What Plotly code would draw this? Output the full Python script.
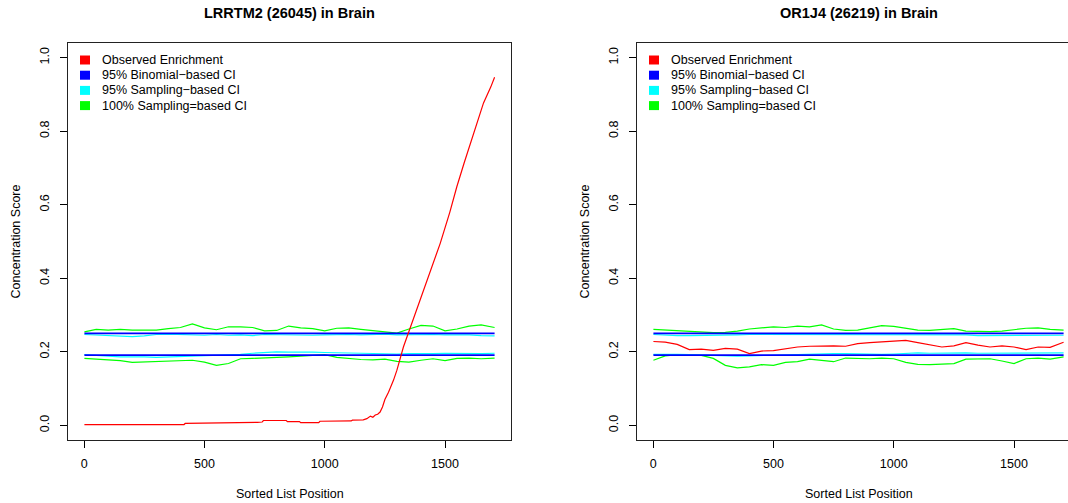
import plotly.graph_objects as go

W, H = 1068, 503

# ---------------- data ----------------
POS = [1, 50, 100, 150, 200, 250, 300, 350, 400, 450, 500, 550, 600, 650, 700,
       750, 800, 850, 900, 950, 1000, 1050, 1100, 1150, 1200, 1250, 1300, 1350,
       1400, 1450, 1500, 1550, 1600, 1650, 1706]

BINOM_UPPER = 0.250
BINOM_LOWER = 0.191

# Left panel: LRRTM2
L_RED_POS = [1, 150, 155, 360, 365, 415, 420, 715, 720, 740, 745, 840, 845, 895, 900,
             975, 980, 1110, 1115, 1160, 1175, 1190, 1200, 1210, 1220, 1230, 1240,
             1250, 1265, 1286, 1300, 1327, 1360, 1410, 1450, 1480, 1520, 1549, 1580,
             1618, 1660, 1690, 1706]
L_RED = [0.002, 0.002, 0.000, 0.000, 0.002, 0.002, 0.005, 0.006, 0.008, 0.009, 0.013,
         0.013, 0.010, 0.010, 0.007, 0.007, 0.011, 0.012, 0.014, 0.015, 0.018, 0.025,
         0.022, 0.028, 0.030, 0.036, 0.050, 0.070, 0.090, 0.123, 0.150, 0.213, 0.275,
         0.368, 0.440, 0.495, 0.580, 0.649, 0.715, 0.795, 0.877, 0.920, 0.947]
L_GREEN_UP = [0.254, 0.261, 0.259, 0.261, 0.259, 0.260, 0.259, 0.263, 0.266, 0.276,
              0.265, 0.260, 0.268, 0.268, 0.266, 0.257, 0.258, 0.270, 0.265, 0.263,
              0.257, 0.264, 0.265, 0.261, 0.258, 0.254, 0.251, 0.262, 0.272, 0.270,
              0.257, 0.262, 0.270, 0.273, 0.266]
L_CYAN_UP = [0.247, 0.246, 0.243, 0.242, 0.241, 0.243, 0.247, 0.248, 0.247, 0.248,
             0.245, 0.247, 0.245, 0.246, 0.244, 0.247, 0.246, 0.247, 0.246, 0.245,
             0.246, 0.247, 0.247, 0.246, 0.247, 0.248, 0.246, 0.247, 0.246, 0.247,
             0.246, 0.247, 0.246, 0.244, 0.243]
L_CYAN_LO = [0.192, 0.191, 0.188, 0.186, 0.187, 0.186, 0.185, 0.186, 0.189, 0.189,
             0.190, 0.190, 0.191, 0.193, 0.196, 0.198, 0.200, 0.199, 0.200, 0.199,
             0.198, 0.197, 0.197, 0.195, 0.196, 0.195, 0.194, 0.195, 0.194, 0.195,
             0.196, 0.195, 0.194, 0.195, 0.196]
L_GREEN_LO = [0.182, 0.180, 0.178, 0.176, 0.171, 0.172, 0.174, 0.176, 0.175, 0.177,
              0.172, 0.163, 0.168, 0.181, 0.182, 0.183, 0.184, 0.186, 0.188, 0.191,
              0.192, 0.185, 0.181, 0.179, 0.178, 0.180, 0.174, 0.172, 0.177, 0.181,
              0.176, 0.182, 0.183, 0.181, 0.183]

# Right panel: OR1J4
R_RED = [0.228, 0.226, 0.220, 0.206, 0.207, 0.204, 0.209, 0.207, 0.195, 0.202,
         0.203, 0.208, 0.213, 0.215, 0.216, 0.216, 0.215, 0.222, 0.225, 0.227,
         0.227, 0.231, 0.225, 0.218, 0.213, 0.216, 0.225, 0.218, 0.213, 0.216,
         0.213, 0.206, 0.213, 0.212, 0.226]
R_GREEN_UP = [0.261, 0.259, 0.257, 0.255, 0.253, 0.252, 0.253, 0.256, 0.262, 0.265,
              0.268, 0.266, 0.270, 0.268, 0.273, 0.262, 0.258, 0.259, 0.265, 0.271,
              0.269, 0.264, 0.259, 0.258, 0.260, 0.263, 0.256, 0.255, 0.255, 0.256,
              0.261, 0.264, 0.265, 0.261, 0.259]
R_CYAN_UP = [0.247, 0.245, 0.244, 0.244, 0.244, 0.244, 0.245, 0.246, 0.247, 0.247,
             0.246, 0.247, 0.246, 0.247, 0.246, 0.247, 0.246, 0.247, 0.247, 0.246,
             0.247, 0.246, 0.245, 0.246, 0.247, 0.246, 0.246, 0.244, 0.244, 0.245,
             0.246, 0.246, 0.246, 0.245, 0.245]
R_CYAN_LO = [0.193, 0.194, 0.193, 0.192, 0.191, 0.189, 0.187, 0.188, 0.189, 0.190,
             0.191, 0.192, 0.193, 0.193, 0.194, 0.195, 0.195, 0.194, 0.193, 0.193,
             0.194, 0.196, 0.197, 0.196, 0.197, 0.198, 0.197, 0.196, 0.196, 0.197,
             0.196, 0.195, 0.196, 0.197, 0.197]
R_GREEN_LO = [0.177, 0.189, 0.192, 0.192, 0.190, 0.182, 0.163, 0.156, 0.159, 0.165,
              0.163, 0.171, 0.173, 0.180, 0.177, 0.173, 0.183, 0.181, 0.181, 0.183,
              0.181, 0.171, 0.166, 0.165, 0.166, 0.168, 0.180, 0.181, 0.181, 0.175,
              0.168, 0.181, 0.183, 0.180, 0.186]

TITLES = ["LRRTM2 (26045) in Brain", "OR1J4 (26219) in Brain"]
LEGEND_LABELS = ["Observed Enrichment", "95% Binomial\u2212based CI",
                 "95% Sampling\u2212based CI", "100% Sampling=based CI"]
LEGEND_COLORS = ["#FF0000", "#0000FF", "#00FFFF", "#00FF00"]
XTICKS = [0, 500, 1000, 1500]
YTICKS = [0.0, 0.2, 0.4, 0.6, 0.8, 1.0]
YTICKTEXT = ["0.0", "0.2", "0.4", "0.6", "0.8", "1.0"]
XLABEL = "Sorted List Position"
YLABEL = "Concentration Score"

# ---------------- figure ----------------
FONT = "Liberation Sans, Arial, Helvetica, sans-serif"
RED, BLUE, CYAN, GREEN = LEGEND_COLORS

fig = go.Figure()

def add_panel(xa, ya, red_x, red_y, g_up, c_up, c_lo, g_lo):
    for ys, col in [(g_up, GREEN), (g_lo, GREEN), (c_up, CYAN), (c_lo, CYAN)]:
        fig.add_trace(go.Scatter(x=POS, y=ys, mode="lines", xaxis=xa, yaxis=ya,
                                 line=dict(color=col, width=1.2), showlegend=False,
                                 hoverinfo="skip"))
    for b in (BINOM_UPPER, BINOM_LOWER):
        fig.add_trace(go.Scatter(x=[POS[0], POS[-1]], y=[b, b], mode="lines",
                                 xaxis=xa, yaxis=ya,
                                 line=dict(color=BLUE, width=1.8), showlegend=False,
                                 hoverinfo="skip"))
    fig.add_trace(go.Scatter(x=red_x, y=red_y, mode="lines", xaxis=xa, yaxis=ya,
                             line=dict(color=RED, width=1.2), showlegend=False,
                             hoverinfo="skip"))

add_panel("x", "y", L_RED_POS, L_RED, L_GREEN_UP, L_CYAN_UP, L_CYAN_LO, L_GREEN_LO)
add_panel("x2", "y2", POS, R_RED, R_GREEN_UP, R_CYAN_UP, R_CYAN_LO, R_GREEN_LO)

def px(x):
    return x / W

def py(y):
    return 1 - y / H

BOX_L = (68, 511)
BOX_R = (637, 1068)
BOX_TOP, BOX_BOT = 43, 440
PX_PER_UNIT = (BOX_L[1] - BOX_L[0]) / (1774.2 + 67.2)

common_x = dict(tickvals=XTICKS, ticks="outside", ticklen=7, tickwidth=1,
                tickcolor="black", showline=True, linecolor="#222", linewidth=1,
                showgrid=False, zeroline=False, mirror=True, ticklabelstandoff=5,
                tickfont=dict(family=FONT, size=12.5, color="black"))
common_y = dict(tickvals=YTICKS, ticktext=YTICKTEXT, ticks="outside", ticklen=7,
                tickwidth=1, tickcolor="black", showline=True, linecolor="#222",
                linewidth=1, showgrid=False, zeroline=False, tickangle=-90,
                ticklabelstandoff=6,
                range=[-0.04, 1.04],
                domain=[py(BOX_BOT), py(BOX_TOP)],
                tickfont=dict(family=FONT, size=12.5, color="black"))

fig.update_layout(
    width=W, height=H,
    margin=dict(l=0, r=0, t=0, b=0),
    paper_bgcolor="white", plot_bgcolor="white",
    font=dict(family=FONT, color="black"),
    xaxis=dict(domain=[px(BOX_L[0]), px(BOX_L[1])], range=[-67.2, 1774.2],
               anchor="y", **common_x),
    yaxis=dict(anchor="x", mirror=True, **common_y),
    xaxis2=dict(domain=[px(BOX_R[0]), 1.0],
                range=[-67.2, -67.2 + (BOX_R[1] - BOX_R[0]) / PX_PER_UNIT],
                anchor="y2", **common_x),
    yaxis2=dict(anchor="x2", mirror=False, **common_y),
    showlegend=False,
)

ann = []
shapes = []
for i, (bl, center) in enumerate([(BOX_L[0], 289.5), (BOX_R[0], 859)]):
    ann.append(dict(text="<b>" + TITLES[i] + "</b>", x=px(center), y=py(13),
                    xref="paper", yref="paper", showarrow=False,
                    xanchor="center", yanchor="middle",
                    font=dict(family=FONT, size=14.5, color="black")))
    ann.append(dict(text=XLABEL, x=px(center), y=py(494), xref="paper", yref="paper",
                    showarrow=False, xanchor="center", yanchor="middle",
                    font=dict(family=FONT, size=12.5, color="black")))
    ann.append(dict(text=YLABEL, x=px(bl - 52), y=py((BOX_TOP + BOX_BOT) / 2),
                    xref="paper", yref="paper", showarrow=False, textangle=-90,
                    xanchor="center", yanchor="middle",
                    font=dict(family=FONT, size=12.5, color="black")))
    for k, (lab, col) in enumerate(zip(LEGEND_LABELS, LEGEND_COLORS)):
        yc = 60 + 15.2 * k
        shapes.append(dict(type="rect", xref="paper", yref="paper",
                           x0=px(bl + 12), x1=px(bl + 22), y0=py(yc - 4.5),
                           y1=py(yc + 4.5), fillcolor=col, line=dict(width=0)))
        ann.append(dict(text=lab, x=px(bl + 32), y=py(yc), xref="paper", yref="paper",
                        showarrow=False, xanchor="left", yanchor="middle",
                        font=dict(family=FONT, size=12.5, color="black")))

fig.update_layout(annotations=ann, shapes=shapes)

fig.write_html("out.html")
